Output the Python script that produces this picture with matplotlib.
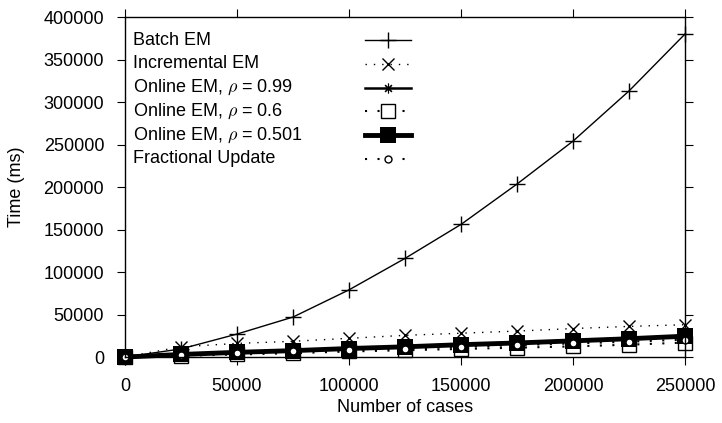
# Timing comparison of EM variants (gnuplot-like look)
import numpy as np
import matplotlib.pyplot as plt

plt.rcParams['font.family'] = ['Liberation Sans', 'DejaVu Sans']
plt.rcParams['mathtext.fontset'] = 'cm'

# Data
cases = [0, 25000, 50000, 75000, 100000, 125000, 150000, 175000, 200000, 225000, 250000]
batch_em = [0, 9500, 27000, 47000, 79000, 116000, 156000, 203500, 254000, 313000, 380000]
incremental_em = [0, 12000, 16000, 18500, 22000, 25500, 28000, 30500, 33500, 36000, 38000]
online_099 = [0, 3500, 5500, 8000, 10000, 12500, 15000, 17000, 19500, 22000, 25000]
online_06 = [0, 1500, 3000, 4500, 6500, 8000, 9500, 11000, 12500, 14500, 17000]
online_0501 = [0, 3000, 5500, 7500, 10000, 12000, 14500, 16500, 19000, 21500, 24500]
fractional = [0, 2500, 4500, 6500, 8500, 10000, 12000, 14000, 16000, 18000, 20500]

labels = ['Batch EM', 'Incremental EM',
          r'Online EM, $\rho$ = 0.99', r'Online EM, $\rho$ = 0.6',
          r'Online EM, $\rho$ = 0.501', 'Fractional Update']

dots = (0, (1, 5))
styles = [
    dict(ls='-', lw=1.0, marker='+', ms=11, mew=1.0, mfc='none'),
    dict(ls=dots, lw=1.0, marker='x', ms=8, mew=1.0, mfc='none'),
    dict(ls='-', lw=1.8, marker=(8, 2, 0), ms=7, mew=0.8, mfc='none'),
    dict(ls=dots, lw=1.5, marker='s', ms=10, mew=1.0, mfc='white'),
    dict(ls='-', lw=3.5, marker='s', ms=12, mew=0, mfc='black'),
    dict(ls=dots, lw=1.5, marker='o', ms=5, mew=1.0, mfc='white'),
]
series = [batch_em, incremental_em, online_099, online_06, online_0501, fractional]

fs = 13

fig = plt.figure(figsize=(7.22, 4.23), dpi=100)
ax = fig.add_axes([0.1731, 0.156, 0.9488 - 0.1731, 0.9598 - 0.156])

for ys, st in zip(series, styles):
    ax.plot(cases, ys, color='black', clip_on=False, **st)

# gnuplot style key: text on the left, sample on the right
for i, (lab, st) in enumerate(zip(labels, styles)):
    y = 0.932 - i * 0.0697
    ax.text(0.014, y, lab, transform=ax.transAxes, va='center', ha='left', fontsize=fs)
    ax.plot([0.428, 0.51], [y, y], transform=ax.transAxes, color='black',
            ls=st['ls'], lw=st['lw'], marker='none', clip_on=False)
    ax.plot([0.469], [y], transform=ax.transAxes, color='black', ls='none',
            marker=st['marker'], ms=st['ms'], mew=st['mew'], mfc=st['mfc'], clip_on=False)

ax.set_xlim(0, 250000)
ax.set_ylim(0, 400000)
ax.set_xticks(np.arange(0, 250001, 50000))
ax.set_yticks(np.arange(0, 400001, 50000))
ax.tick_params(direction='out', length=6, width=0.8, top=True, right=True,
               labelsize=fs)
ax.tick_params(axis='y', pad=9)
ax.tick_params(axis='x', pad=9)
for s in ax.spines.values():
    s.set_linewidth(1.0)

ax.set_xlabel('Number of cases', fontsize=fs, labelpad=3)
ax.set_ylabel('Time (ms)', fontsize=fs, labelpad=13)

fig.savefig('out.png', dpi=100)
